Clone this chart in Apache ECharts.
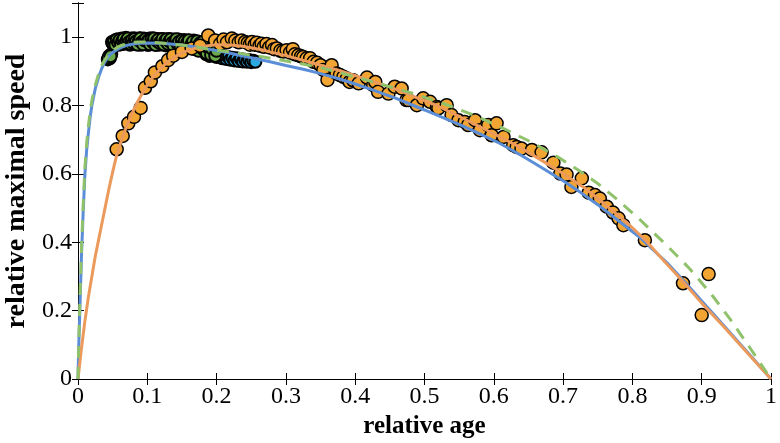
<!DOCTYPE html>
<html>
<head>
<meta charset="utf-8">
<script src="https://cdn.jsdelivr.net/npm/echarts@6/dist/echarts.min.js"></script>
<style>html,body{margin:0;padding:0;background:#fff}#c{width:780px;height:443px}</style>
</head>
<body>
<div id="c"></div>
<script>
// ---- data ----
const xTicks = [0, 0.1, 0.2, 0.3, 0.4, 0.5, 0.6, 0.7, 0.8, 0.9, 1];
const yTicks = [0, 0.2, 0.4, 0.6, 0.8, 1];

const greenPoints = [
  [0.043,0.935],[0.045,0.945],[0.046,0.938],[0.048,0.95],[0.049,0.986],[0.051,0.978],
  [0.053,0.99],[0.055,0.982],[0.057,0.993],[0.059,0.978],[0.061,0.988],[0.063,0.996],
  [0.065,0.98],[0.067,0.99],[0.069,0.998],[0.071,0.984],[0.073,0.992],[0.075,0.978],
  [0.077,0.996],[0.079,0.986],[0.081,0.997],[0.083,0.98],[0.085,0.992],[0.087,0.985],
  [0.089,0.997],[0.091,0.978],[0.093,0.99],[0.095,0.996],[0.097,0.983],[0.099,0.993],
  [0.101,0.977],[0.103,0.996],[0.105,0.986],[0.107,0.997],[0.109,0.98],[0.111,0.991],
  [0.113,0.984],[0.115,0.995],[0.117,0.978],[0.119,0.99],[0.121,0.995],[0.123,0.981],
  [0.125,0.992],[0.127,0.976],[0.129,0.988],[0.131,0.995],[0.133,0.982],[0.135,0.991],
  [0.137,0.977],[0.139,0.993],[0.141,0.985],[0.143,0.974],[0.145,0.993],[0.147,0.98],
  [0.149,0.988],[0.151,0.975],[0.153,0.992],[0.155,0.983],[0.157,0.972],[0.159,0.99],
  [0.161,0.978],[0.163,0.986],[0.165,0.97],[0.167,0.99],[0.169,0.98],[0.171,0.968],
  [0.173,0.986],[0.175,0.975],[0.177,0.963],[0.179,0.984],[0.181,0.97],[0.183,0.958],
  [0.185,0.979],[0.187,0.965],[0.189,0.955],[0.191,0.975],[0.193,0.96],[0.195,0.95],
  [0.197,0.968],[0.199,0.955],[0.201,0.945],
  [0.044,0.94],[0.047,0.944],[0.05,0.982],[0.052,0.987],[0.054,0.977],[0.056,0.993],
  [0.058,0.984],[0.06,0.992],[0.062,0.979],[0.064,0.99],[0.066,0.995],[0.068,0.982],
  [0.07,0.99],[0.072,0.996],[0.074,0.986],[0.076,0.98],[0.078,0.992],[0.08,0.983],
  [0.082,0.995],[0.084,0.988],[0.086,0.978],[0.088,0.99],[0.09,0.996],[0.092,0.985],
  [0.094,0.979],[0.096,0.991],[0.098,0.995],[0.1,0.987],[0.102,0.992],[0.104,0.979],
  [0.106,0.994],[0.108,0.985],[0.11,0.996],[0.112,0.977],[0.114,0.989],[0.116,0.993],
  [0.118,0.983],[0.12,0.988],[0.122,0.995],[0.124,0.978],[0.126,0.99],[0.128,0.994],
  [0.13,0.98],[0.132,0.988],[0.134,0.994],[0.136,0.984],[0.138,0.975],[0.14,0.99],
  [0.142,0.994],[0.144,0.98],[0.146,0.987],[0.148,0.972],[0.15,0.99],[0.152,0.98],
  [0.154,0.988],[0.156,0.975],[0.158,0.985],[0.16,0.991],[0.162,0.97],[0.164,0.98],
  [0.166,0.987],[0.168,0.965],[0.17,0.975],[0.172,0.988],[0.174,0.96],[0.176,0.982],
  [0.178,0.97],[0.18,0.986],[0.182,0.962],[0.184,0.975],[0.186,0.952],[0.188,0.97],
  [0.19,0.983],[0.192,0.948],[0.194,0.965],[0.196,0.978],[0.198,0.945],[0.2,0.96]
];
const bluePoints = [
  [0.185,0.95],[0.19,0.945],[0.195,0.948],[0.2,0.942],[0.204,0.946],[0.208,0.938],
  [0.211,0.944],[0.214,0.936],[0.217,0.942],[0.22,0.934],[0.223,0.94],[0.226,0.932],
  [0.229,0.938],[0.232,0.93],[0.235,0.936],[0.238,0.929],[0.241,0.934],[0.244,0.928],
  [0.247,0.933],[0.25,0.927],[0.253,0.931],[0.256,0.928]
];
const orangePoints = [
  [0.0558,0.672],[0.0645,0.711],[0.0726,0.748],[0.0808,0.767],[0.0904,0.793],[0.0967,0.852],
  [0.105,0.871],[0.111,0.897],[0.1217,0.915],[0.13,0.933],[0.1375,0.946],[0.15,0.957],
  [0.164,0.967],[0.176,0.975],[0.188,1.005],[0.198,0.99],[0.205,0.98],[0.21,0.993],
  [0.215,0.985],[0.222,0.996],[0.227,0.99],[0.232,0.985],[0.236,0.99],[0.241,0.986],
  [0.245,0.983],[0.248,0.978],[0.251,0.986],[0.255,0.978],[0.258,0.984],[0.262,0.975],
  [0.265,0.981],[0.268,0.972],[0.272,0.98],[0.276,0.97],[0.28,0.977],[0.283,0.965],
  [0.287,0.967],[0.292,0.96],[0.296,0.958],[0.301,0.962],[0.306,0.955],[0.31,0.965],
  [0.313,0.95],[0.318,0.947],[0.322,0.944],[0.325,0.942],[0.33,0.938],[0.335,0.938],
  [0.34,0.928],[0.345,0.925],[0.35,0.918],[0.354,0.904],[0.36,0.875],[0.366,0.918],
  [0.373,0.894],[0.378,0.889],[0.383,0.884],[0.388,0.879],[0.392,0.869],[0.397,0.874],
  [0.405,0.865],[0.417,0.882],[0.426,0.86],[0.429,0.869],[0.433,0.84],[0.448,0.835],
  [0.457,0.855],[0.467,0.85],[0.474,0.816],[0.477,0.816],[0.489,0.801],[0.498,0.821],
  [0.508,0.811],[0.518,0.796],[0.52,0.792],[0.532,0.801],[0.539,0.772],[0.549,0.757],
  [0.558,0.752],[0.563,0.743],[0.573,0.757],[0.58,0.728],[0.592,0.743],[0.597,0.713],
  [0.604,0.748],[0.614,0.708],[0.628,0.684],[0.633,0.679],[0.64,0.674],[0.655,0.67],
  [0.669,0.663],[0.686,0.633],[0.696,0.601],[0.705,0.598],[0.712,0.562],[0.727,0.587],
  [0.737,0.545],[0.746,0.538],[0.753,0.528],[0.763,0.504],[0.772,0.487],[0.78,0.47],
  [0.787,0.45],[0.818,0.406],[0.873,0.28],[0.9,0.187],[0.91,0.307]
];

const blueCurve = [
  [0,0],[0.001,0.09],[0.0025,0.19],[0.005,0.36],[0.0075,0.49],[0.01,0.6],[0.0125,0.67],
  [0.015,0.72],[0.0175,0.765],[0.02,0.8],[0.025,0.85],[0.03,0.885],[0.034,0.907],[0.038,0.925],
  [0.042,0.938],[0.046,0.948],[0.05,0.955],[0.055,0.962],[0.06,0.968],[0.07,0.976],[0.08,0.98],
  [0.09,0.982],[0.1,0.983],[0.12,0.982],[0.15,0.977],[0.18,0.968],[0.215,0.955],[0.25,0.94],
  [0.277,0.928],[0.3,0.917],[0.325,0.906],[0.349,0.894],[0.375,0.879],[0.4,0.863],[0.426,0.845],
  [0.46,0.82],[0.5,0.787],[0.55,0.745],[0.58,0.717],[0.609,0.689],[0.64,0.654],[0.667,0.621],
  [0.7,0.58],[0.725,0.546],[0.75,0.51],[0.78,0.463],[0.811,0.414],[0.85,0.34],[0.875,0.285],
  [0.9,0.228],[0.925,0.172],[0.95,0.115],[0.975,0.058],[1,0]
];
const orangeCurve = [
  [0,0],[0.005,0.09],[0.01,0.17],[0.015,0.24],[0.02,0.3],[0.025,0.36],[0.03,0.41],
  [0.035,0.46],[0.04,0.51],[0.045,0.56],[0.05,0.605],[0.0558,0.655],[0.065,0.712],[0.071,0.744],
  [0.0775,0.775],[0.087,0.815],[0.0967,0.85],[0.104,0.872],[0.11,0.888],[0.121,0.912],
  [0.13,0.929],[0.14,0.943],[0.15,0.954],[0.16,0.962],[0.17,0.968],[0.18,0.973],[0.19,0.976],
  [0.2,0.978],[0.21,0.978],[0.22,0.977],[0.235,0.974],[0.25,0.969],[0.265,0.963],[0.277,0.957],
  [0.3,0.946],[0.32,0.935],[0.345,0.921],[0.373,0.905],[0.395,0.891],[0.42,0.874],[0.443,0.859],
  [0.465,0.843],[0.49,0.822],[0.52,0.798],[0.55,0.768],[0.58,0.738],[0.609,0.708],[0.63,0.686],
  [0.65,0.663],[0.672,0.636],[0.696,0.606],[0.713,0.583],[0.729,0.562],[0.75,0.528],[0.77,0.495],
  [0.795,0.452],[0.818,0.408],[0.845,0.347],[0.873,0.285],[0.9,0.222],[0.93,0.157],
  [0.965,0.078],[1,0]
];
const greenCurve = [
  [0,0],[0.001,0.1],[0.0025,0.21],[0.005,0.38],[0.0075,0.51],[0.01,0.62],[0.0125,0.69],
  [0.015,0.74],[0.0175,0.782],[0.02,0.815],[0.025,0.86],[0.03,0.895],[0.034,0.916],[0.038,0.932],
  [0.042,0.944],[0.046,0.953],[0.05,0.961],[0.055,0.968],[0.06,0.974],[0.07,0.981],[0.08,0.985],
  [0.09,0.986],[0.1,0.986],[0.125,0.982],[0.15,0.977],[0.175,0.97],[0.195,0.963],[0.22,0.957],
  [0.245,0.949],[0.27,0.941],[0.29,0.934],[0.32,0.923],[0.35,0.911],[0.38,0.895],[0.41,0.878],
  [0.44,0.861],[0.484,0.835],[0.527,0.806],[0.57,0.773],[0.613,0.734],[0.657,0.69],[0.696,0.645],
  [0.725,0.607],[0.75,0.572],[0.78,0.522],[0.811,0.466],[0.85,0.39],[0.883,0.322],[0.915,0.245],
  [0.941,0.175],[0.97,0.09],[1,0]
];

// ---- chart ----
const FONT = 'Liberation Serif';
const chart = echarts.init(document.getElementById('c'), null, {renderer: 'canvas'});
const axisLineStyle = {lineStyle: {color: '#000', width: 1}};
const tickStyle = {show: true, inside: true, length: 6, lineStyle: {color: '#000', width: 1}};
const labelFmt = v => {
  const r = Math.round(v * 10) / 10;
  return (xTicks.includes(r) || yTicks.includes(r)) ? String(r) : '';
};

const scatterStyle = (fill, bw) => ({color: fill, borderColor: '#000', borderWidth: bw, opacity: 1});

chart.setOption({
  animation: false,
  backgroundColor: '#fff',
  grid: {left: 78, right: 9, top: 3, bottom: 64, containLabel: false, outerBoundsMode: 'none'},
  xAxis: [
    {type: 'value', position: 'bottom', min: 0, max: 1, interval: 0.1,
     axisLine: axisLineStyle, axisTick: tickStyle, splitLine: {show: false},
     axisLabel: {color: '#000', fontFamily: FONT, fontSize: 24, margin: 6, formatter: labelFmt},
     name: 'relative age', nameLocation: 'middle', nameGap: 31,
     nameTextStyle: {color: '#000', fontFamily: FONT, fontSize: 25, fontWeight: 'bold'}},
    {type: 'value', position: 'top', min: 0, max: 1, interval: 0.1,
     axisLine: axisLineStyle, axisTick: tickStyle, splitLine: {show: false},
     axisLabel: {show: false}}
  ],
  yAxis: [
    {type: 'value', position: 'left', min: 0, max: 1.1, interval: 0.2,
     axisLine: axisLineStyle, axisTick: tickStyle, splitLine: {show: false},
     axisLabel: {color: '#000', fontFamily: FONT, fontSize: 24, margin: 6,
       formatter: v => (v > 1.05 ? '' : String(Math.round(v * 10) / 10))},
     name: 'relative maximal speed', nameLocation: 'middle', nameGap: 47,
     nameTextStyle: {color: '#000', fontFamily: FONT, fontSize: 28, fontWeight: 'bold'}},
    {type: 'value', position: 'right', min: 0, max: 1.1, interval: 0.2,
     axisLine: axisLineStyle, axisTick: tickStyle, splitLine: {show: false},
     axisLabel: {show: false}}
  ],
  series: [
    {type: 'scatter', data: bluePoints, symbolSize: 12, itemStyle: scatterStyle('#2aa8e0', 2), z: 2},
    {type: 'scatter', data: greenPoints, symbolSize: 12, itemStyle: scatterStyle('#6aaa48', 2), z: 2},
    {type: 'scatter', data: orangePoints, symbolSize: 13, itemStyle: scatterStyle('#f2a532', 1.5), z: 2},
    {type: 'line', data: blueCurve, showSymbol: false, smooth: false,
     lineStyle: {color: '#5b8ed6', width: 3}, z: 3},
    {type: 'line', data: orangeCurve, showSymbol: false, smooth: false,
     lineStyle: {color: '#ec9a5c', width: 3}, z: 3},
    {type: 'line', data: greenCurve, showSymbol: false, smooth: false,
     lineStyle: {color: '#8fc26a', width: 3, type: [12, 9]}, z: 4}
  ]
});
</script>
</body>
</html>
